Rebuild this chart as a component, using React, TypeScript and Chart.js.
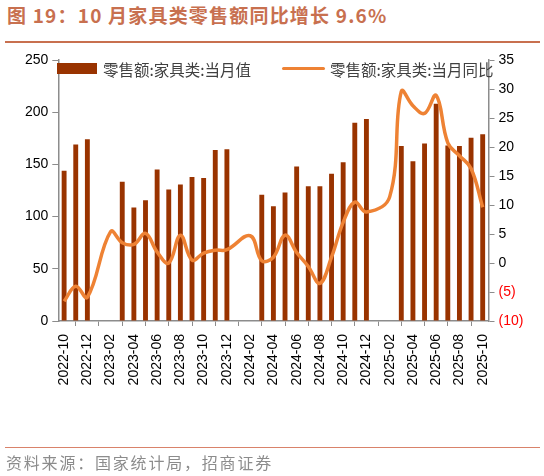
import { useEffect, useRef } from 'react';
import { Chart, registerables } from 'chart.js';

Chart.register(...registerables);

// 月份（1、2 月合并公布，单月值为空）
const months = [
    '2022-10', '2022-11', '2022-12',
    '2023-01', '2023-02', '2023-03', '2023-04', '2023-05', '2023-06',
    '2023-07', '2023-08', '2023-09', '2023-10', '2023-11', '2023-12',
    '2024-01', '2024-02', '2024-03', '2024-04', '2024-05', '2024-06',
    '2024-07', '2024-08', '2024-09', '2024-10', '2024-11', '2024-12',
    '2025-01', '2025-02', '2025-03', '2025-04', '2025-05', '2025-06',
    '2025-07', '2025-08', '2025-09', '2025-10',
];

// 零售额:家具类:当月值（亿元）
const monthlyValue = [
    144, 169, 174,
    null, null, 133.5, 108.7, 115.7, 145, 126, 130.7, 138, 137, 163.8, 164.4,
    null, null, 121, 110, 123, 148, 129, 129, 141, 152, 190, 193.5,
    null, null, 167.6, 153, 170, 208, 168, 167.6, 175.6, 178.8,
];

// 零售额:家具类:当月同比（%）
const yoyGrowth = [
    -6.6, -4.0, -5.9,
    null, 5.4, 3.5, 3.2, 5.1, 1.9, 0.0, 4.8, 0.5, 1.7, 2.2, 2.3,
    null, 4.7, 0.4, 1.0, 4.8, 1.8, -0.6, -3.5, 1.0, 7.0, 10.5, 8.8,
    null, 11.4, 29.6, 27.1, 25.8, 28.9, 20.7, 18.5, 16.3, 9.6,
];

const leftTicks = { min: 0, max: 250, step: 50 };
const rightTicks = { min: -10, max: 35, step: 5 };

const BAR_COLOR = '#993300';
const LINE_COLOR = '#EE8234';
const AXIS_COLOR = '#8c8c8c';
const TITLE_COLOR = '#C8704F';
const TICK_FONT = { family: "'Liberation Sans', Arial, sans-serif", size: 14 };
const CJK = "'Noto Sans CJK SC', sans-serif";

const FurnitureChart = () => {
    const chartRef = useRef<HTMLCanvasElement | null>(null);

    useEffect(() => {
        const ctx = chartRef.current?.getContext('2d');
        if (!ctx) return;

        const myChart = new Chart(ctx, {
            type: 'bar',
            data: {
                labels: months,
                datasets: [
                    {
                        type: 'line',
                        label: '零售额:家具类:当月同比',
                        data: yoyGrowth,
                        yAxisID: 'y1',
                        borderColor: LINE_COLOR,
                        borderWidth: 3.5,
                        pointRadius: 0,
                        tension: 0.4,
                        spanGaps: true,
                        order: 0,
                    },
                    {
                        type: 'bar',
                        label: '零售额:家具类:当月值',
                        data: monthlyValue,
                        yAxisID: 'y',
                        backgroundColor: BAR_COLOR,
                        barPercentage: 0.42,
                        categoryPercentage: 1,
                        order: 1,
                    },
                ],
            },
            options: {
                responsive: false,
                animation: false,
                layout: { padding: { top: 60, left: 0, right: 0, bottom: 0 } },
                plugins: {
                    legend: { display: false },
                    tooltip: { enabled: false },
                },
                scales: {
                    x: {
                        type: 'category',
                        offset: true,
                        grid: {
                            offset: true,
                            drawOnChartArea: false,
                            tickLength: 5,
                            color: AXIS_COLOR,
                        },
                        border: { color: AXIS_COLOR, width: 1.5 },
                        ticks: {
                            autoSkip: false,
                            minRotation: 90,
                            maxRotation: 90,
                            padding: 8,
                            color: '#000',
                            font: TICK_FONT,
                            callback: (_v, i) => (i % 2 === 0 ? months[i] : null),
                        },
                        afterFit: (scale) => {
                            scale.height = 476 - 321;
                        },
                    },
                    y: {
                        position: 'left',
                        min: leftTicks.min,
                        max: leftTicks.max,
                        grid: { drawOnChartArea: false, tickLength: 6, color: AXIS_COLOR },
                        border: { color: AXIS_COLOR, width: 1.5 },
                        ticks: {
                            stepSize: leftTicks.step,
                            padding: 4,
                            color: '#000',
                            font: TICK_FONT,
                        },
                        afterFit: (scale) => {
                            scale.width = 58.3;
                        },
                    },
                    y1: {
                        position: 'right',
                        min: rightTicks.min,
                        max: rightTicks.max,
                        grid: { drawOnChartArea: false, tickLength: 6, color: AXIS_COLOR },
                        border: { color: AXIS_COLOR, width: 1.5 },
                        ticks: {
                            stepSize: rightTicks.step,
                            padding: 4,
                            font: TICK_FONT,
                            color: (c) => (c.tick && c.tick.value < 0 ? '#FF0000' : '#000'),
                            callback: (v) => (Number(v) < 0 ? `(${-Number(v)})` : `${v}`),
                        },
                        afterFit: (scale) => {
                            scale.width = 544 - 488.5;
                        },
                    },
                },
            },
        } as any);

        return () => {
            myChart.destroy();
        };
    }, []);

    return (
        <canvas
            ref={chartRef}
            width={544}
            height={476}
            style={{ position: 'absolute', left: 0, top: 0, width: 544, height: 476 }}
        />
    );
};

const App = () => {
    return (
        <div style={{ position: 'fixed', left: 0, top: 0, width: 544, height: 476, background: '#fff', overflow: 'hidden' }}>
            <div
                style={{
                    position: 'absolute', left: 7, top: 3, fontFamily: CJK, fontWeight: 'bold',
                    fontSize: 19, letterSpacing: 1.2, color: TITLE_COLOR, whiteSpace: 'nowrap', lineHeight: '24px',
                }}
            >
                图 19：10 月家具类零售额同比增长 9.6%
            </div>
            <div style={{ position: 'absolute', left: 5, top: 41, width: 535, height: 2, background: TITLE_COLOR }} />

            <FurnitureChart />

            {/* 图例 */}
            <div style={{ position: 'absolute', left: 57, top: 63, width: 40, height: 11, background: BAR_COLOR }} />
            <div
                style={{
                    position: 'absolute', left: 103, top: 59, fontFamily: CJK, fontSize: 15.5,
                    color: '#404040', whiteSpace: 'nowrap', lineHeight: '20px',
                }}
            >
                零售额:家具类:当月值
            </div>
            <div style={{ position: 'absolute', left: 282, top: 66.5, width: 43, height: 3.5, background: LINE_COLOR, borderRadius: 2 }} />
            <div
                style={{
                    position: 'absolute', left: 330, top: 59, fontFamily: CJK, fontSize: 15.5,
                    color: '#404040', whiteSpace: 'nowrap', lineHeight: '20px',
                }}
            >
                零售额:家具类:当月同比
            </div>

            <div style={{ position: 'absolute', left: 5, top: 446.5, width: 535, height: 1.5, background: '#D9826A' }} />
            <div
                style={{
                    position: 'absolute', left: 6, top: 451, fontFamily: CJK, fontSize: 16,
                    letterSpacing: 1.8, color: '#8c8c8c', whiteSpace: 'nowrap', lineHeight: '22px',
                }}
            >
                资料来源：国家统计局，招商证券
            </div>
        </div>
    );
};

export default App;
